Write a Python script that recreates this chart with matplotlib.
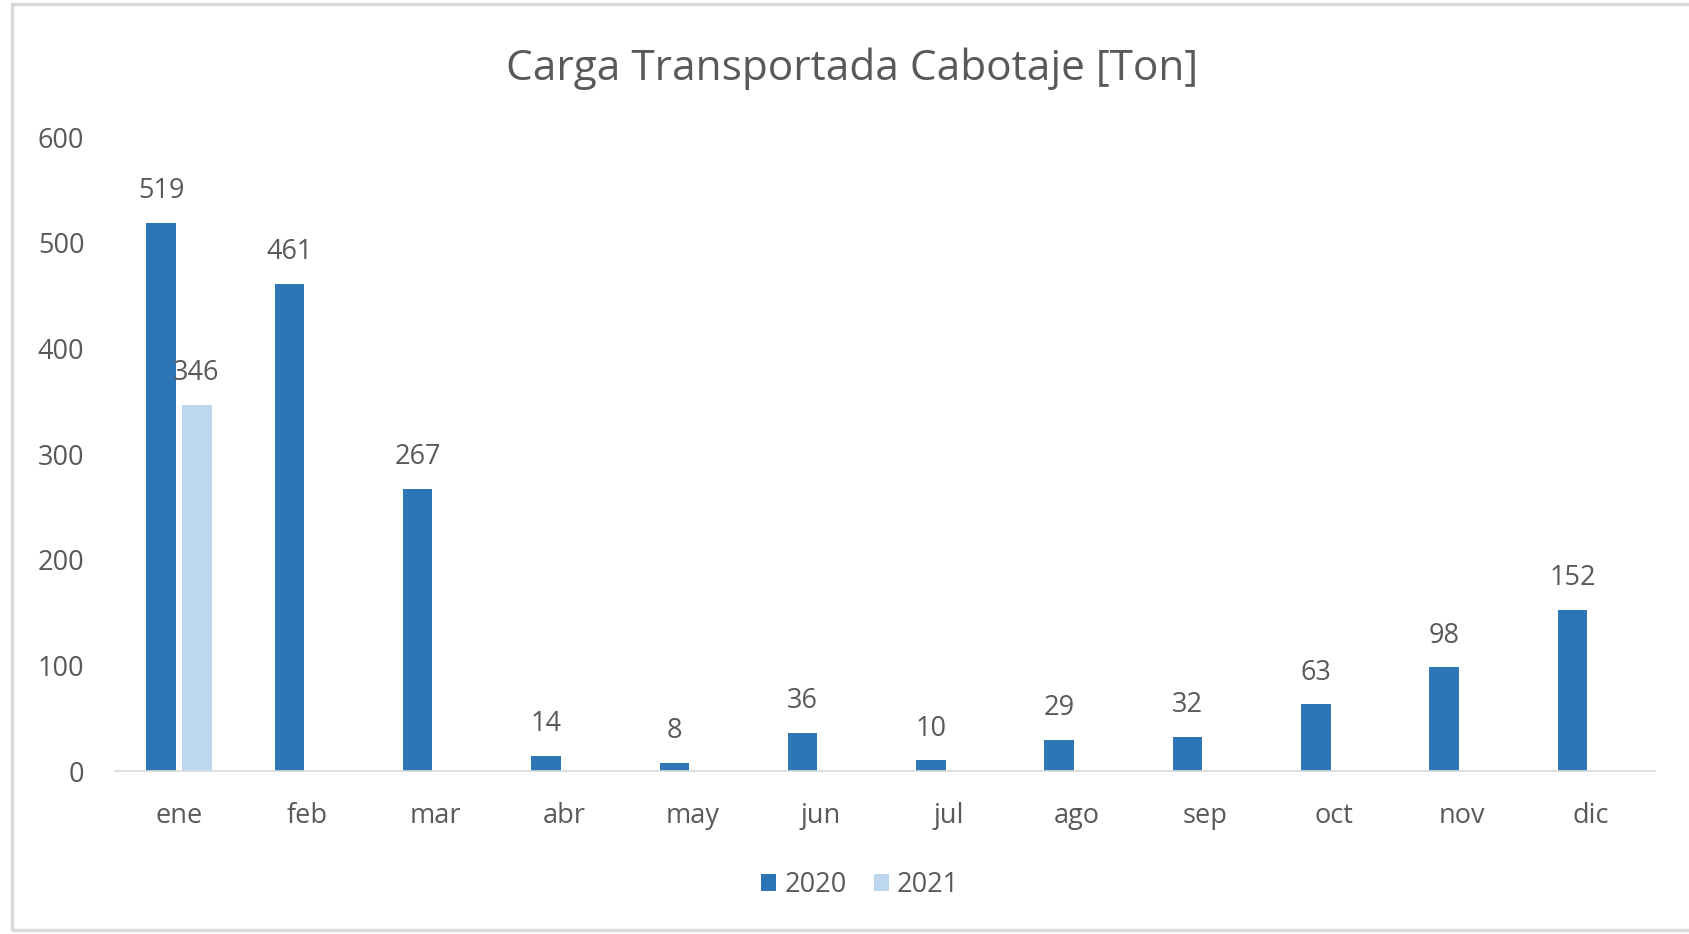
import numpy as np
import matplotlib.pyplot as plt
from matplotlib.patches import Rectangle

# data
months = ['ene', 'feb', 'mar', 'abr', 'may', 'jun', 'jul', 'ago', 'sep', 'oct', 'nov', 'dic']
carga_2020 = [519, 461, 267, 14, 8, 36, 10, 29, 32, 63, 98, 152]
carga_2021 = [346, None, None, None, None, None, None, None, None, None, None, None]
y_ticks = [0, 100, 200, 300, 400, 500, 600]

plt.rcParams['font.family'] = ['Open Sans', 'DejaVu Sans']
txt = '#595959'
fs = 19.5

fig = plt.figure(figsize=(16.9, 9.34), dpi=100)
ax = fig.add_axes([0.068, 0.1745, 0.911, 0.6788])

x = np.arange(len(months))
w = 0.23
off = 0.14
v21 = np.array([np.nan if v is None else v for v in carga_2021], dtype=float)

b1 = ax.bar(x - off, carga_2020, width=w, color='#2E75B6', label='2020')
b2 = ax.bar(x + off, v21, width=w, color='#BDD7EE', label='2021')

for xi, v in zip(x - off, carga_2020):
    ax.annotate(str(v), (xi, v), xytext=(0, 23), textcoords='offset points',
                ha='center', va='center', fontsize=fs, color=txt)
for xi, v in zip(x + off, carga_2021):
    if v is not None:
        ax.annotate(str(v), (xi, v), xytext=(-1, 23), textcoords='offset points',
                    ha='center', va='center', fontsize=fs, color=txt)

ax.set_xlim(-0.5, 11.5)
ax.set_ylim(0, 600)
ax.set_yticks(y_ticks)
ax.set_xticks(x)
ax.set_xticklabels(months)
ax.tick_params(axis='both', length=0, labelsize=fs, labelcolor=txt)
ax.tick_params(axis='y', pad=22)
ax.tick_params(axis='x', pad=22.5)
for s in ['top', 'right', 'left']:
    ax.spines[s].set_visible(False)
ax.spines['bottom'].set_color('#d9d9d9')
ax.spines['bottom'].set_linewidth(1.2)

fig.text(0.504, 0.926, 'Carga Transportada Cabotaje [Ton]', ha='center', va='center',
         fontsize=30.5, color=txt)

fig.legend(handles=[b1, b2], loc='center', bbox_to_anchor=(0.509, 0.0525), ncol=2,
           frameon=False, fontsize=fs, labelcolor=txt, handlelength=0.55, handleheight=0.55,
           handletextpad=0.3, columnspacing=1.0)

# outer chart frame
fig.patches.append(Rectangle((12 / 1690, 4 / 934), 1.1, 926 / 934, transform=fig.transFigure,
                             fill=False, edgecolor='#d9d9d9', linewidth=2.5))

fig.savefig('out.png', dpi=100)
